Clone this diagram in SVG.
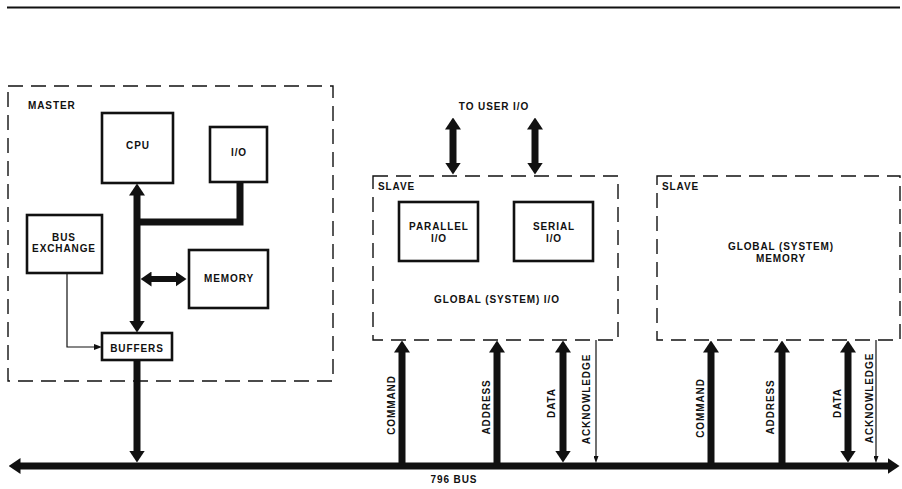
<svg xmlns="http://www.w3.org/2000/svg" width="902" height="489" viewBox="0 0 902 489">
<style>
.t{font-family:"Liberation Sans",Arial,sans-serif;font-weight:bold;font-size:10px;letter-spacing:0.9px;fill:#111}
.m{text-anchor:middle}
.box{fill:#fff;stroke:#111;stroke-width:2.6}
.dash{fill:none;stroke:#111;stroke-width:1.4;stroke-dasharray:15 8}
.thick{fill:none;stroke:#111;stroke-width:7}
.mid{fill:none;stroke:#111;stroke-width:6}
.thin{fill:none;stroke:#111;stroke-width:1.2}
</style>
<defs>
<marker id="big" viewBox="0 0 12 16" refX="0.5" refY="8" markerWidth="12" markerHeight="16" markerUnits="userSpaceOnUse" orient="auto-start-reverse">
<path d="M0,0 L12,8 L0,16 z" fill="#111"/>
</marker>
<marker id="med" viewBox="0 0 11 15" refX="0.5" refY="7.5" markerWidth="11" markerHeight="15" markerUnits="userSpaceOnUse" orient="auto-start-reverse">
<path d="M0,0 L11,7.5 L0,15 z" fill="#111"/>
</marker>
<marker id="small" viewBox="0 0 8 6" refX="1" refY="3" markerWidth="8" markerHeight="6" markerUnits="userSpaceOnUse" orient="auto">
<path d="M0,0 L8,3 L0,6 z" fill="#111"/>
</marker>
<marker id="tiny" viewBox="0 0 7 5" refX="1" refY="2.5" markerWidth="7" markerHeight="5" markerUnits="userSpaceOnUse" orient="auto">
<path d="M0,0 L7,2.5 L0,5 z" fill="#111"/>
</marker>
</defs>
<rect width="902" height="489" fill="#fff"/>
<line x1="7" y1="7.5" x2="900" y2="7.5" stroke="#111" stroke-width="2"/>

<g id="connectors">
<!-- master internal bus -->
<line class="thick" x1="137" y1="195" x2="137" y2="321" marker-start="url(#big)" marker-end="url(#big)"/>
<path class="thick" d="M137,222 H240 V182"/>
<line class="mid" x1="151" y1="279" x2="176" y2="279" marker-start="url(#med)" marker-end="url(#med)"/>
<polyline class="thin" points="67,273 67,347 95,347" marker-end="url(#small)"/>
<line class="thick" x1="137" y1="360" x2="137" y2="451" marker-end="url(#big)"/>
<!-- main bus -->
<line class="thick" x1="20" y1="466" x2="888" y2="466" marker-start="url(#big)" marker-end="url(#big)"/>
<!-- to user I/O -->
<line class="thick" x1="453" y1="129" x2="453" y2="163" marker-start="url(#big)" marker-end="url(#big)"/>
<line class="thick" x1="535" y1="129" x2="535" y2="163" marker-start="url(#big)" marker-end="url(#big)"/>
<!-- slave 1 -->
<line class="thick" x1="402" y1="466" x2="402" y2="352" marker-end="url(#big)"/>
<line class="thick" x1="497" y1="466" x2="497" y2="352" marker-end="url(#big)"/>
<line class="thick" x1="563" y1="451" x2="563" y2="352" marker-start="url(#big)" marker-end="url(#big)"/>
<line class="thin" x1="596" y1="340" x2="596" y2="457" marker-end="url(#tiny)"/>
<!-- slave 2 -->
<line class="thick" x1="711" y1="466" x2="711" y2="352" marker-end="url(#big)"/>
<line class="thick" x1="782" y1="466" x2="782" y2="352" marker-end="url(#big)"/>
<line class="thick" x1="848" y1="451" x2="848" y2="352" marker-start="url(#big)" marker-end="url(#big)"/>
<line class="thin" x1="876" y1="340" x2="876" y2="457" marker-end="url(#tiny)"/>
</g>

<g id="master">
<rect class="dash" x="8" y="86" width="325" height="295"/>
<text class="t" x="28" y="109">MASTER</text>
</g>
<g id="cpu">
<rect class="box" x="102" y="113" width="71" height="70"/>
<text class="t m" x="138" y="149">CPU</text>
</g>
<g id="io">
<rect class="box" x="210" y="127" width="57" height="55"/>
<text class="t m" x="239" y="156">I/O</text>
</g>
<g id="bus-exchange">
<rect class="box" x="27" y="215" width="75" height="58"/>
<text class="t m" x="64" y="241">BUS</text>
<text class="t m" x="64" y="252">EXCHANGE</text>
</g>
<g id="memory">
<rect class="box" x="189" y="250" width="79" height="58"/>
<text class="t m" x="229" y="282">MEMORY</text>
</g>
<g id="buffers">
<rect class="box" x="102" y="333" width="70" height="27"/>
<text class="t m" x="137" y="352">BUFFERS</text>
</g>

<g id="user-io-label">
<text class="t m" x="494" y="110">TO USER I/O</text>
</g>

<g id="slave-io">
<rect class="dash" x="373" y="176" width="245" height="164"/>
<text class="t" x="378" y="190">SLAVE</text>
<text class="t m" x="497" y="303">GLOBAL (SYSTEM) I/O</text>
</g>
<g id="parallel-io">
<rect class="box" x="399" y="202" width="79" height="59"/>
<text class="t m" x="439" y="230">PARALLEL</text>
<text class="t m" x="439" y="242">I/O</text>
</g>
<g id="serial-io">
<rect class="box" x="514" y="202" width="79" height="59"/>
<text class="t m" x="554" y="230">SERIAL</text>
<text class="t m" x="554" y="242">I/O</text>
</g>

<g id="slave-memory">
<rect class="dash" x="657" y="176" width="243" height="164"/>
<text class="t" x="662" y="190">SLAVE</text>
<text class="t m" x="781" y="250">GLOBAL (SYSTEM)</text>
<text class="t m" x="781" y="262">MEMORY</text>
</g>

<g id="bus-labels">
<text class="t m" x="454" y="483">796 BUS</text>
<text class="t m" transform="translate(395,405) rotate(-90)">COMMAND</text>
<text class="t m" transform="translate(490,407) rotate(-90)">ADDRESS</text>
<text class="t m" transform="translate(555,403) rotate(-90)">DATA</text>
<text class="t m" transform="translate(590,399) rotate(-90)">ACKNOWLEDGE</text>
<text class="t m" transform="translate(704,408) rotate(-90)">COMMAND</text>
<text class="t m" transform="translate(774,407) rotate(-90)">ADDRESS</text>
<text class="t m" transform="translate(841,403) rotate(-90)">DATA</text>
<text class="t m" transform="translate(873,398) rotate(-90)">ACKNOWLEDGE</text>
</g>
</svg>
